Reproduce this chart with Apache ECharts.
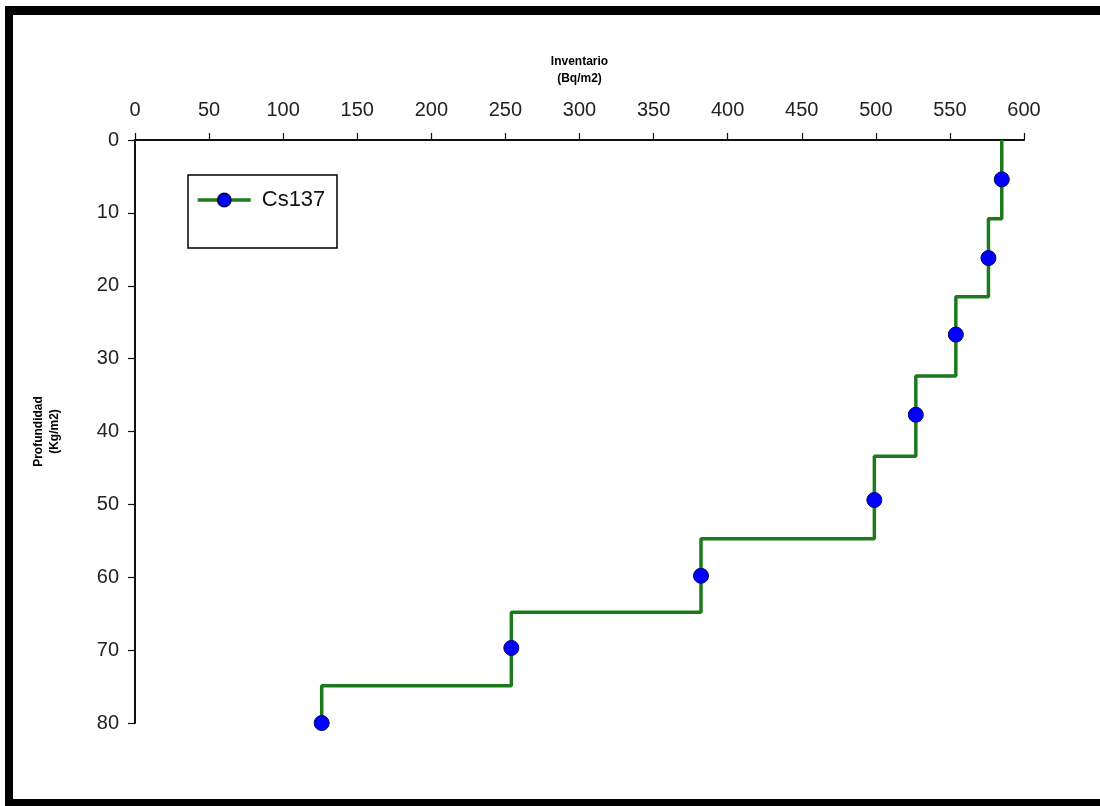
<!DOCTYPE html>
<html>
<head>
<meta charset="utf-8">
<script src="https://cdn.jsdelivr.net/npm/echarts@6/dist/echarts.min.js"></script>
<style>
html,body{margin:0;padding:0;background:#fff;}
#chart{width:1100px;height:806px;}
</style>
</head>
<body>
<div id="chart"></div>
<script>
// Data
var seriesName = 'Cs137';
var inventory = [585, 576, 554, 527, 499, 382, 254, 126];      // Bq/m2, per layer
var pointDepth = [5.4, 16.2, 26.7, 37.7, 49.4, 59.8, 69.7, 80.0]; // Kg/m2, marker depth
var layerTop = [0, 10.8, 21.5, 32.4, 43.4, 54.7, 64.8, 74.9];    // Kg/m2, step boundaries
var xTicks = {min: 0, max: 600, interval: 50};
var yTicks = {min: 0, max: 80, interval: 10};

// Build step line: vertical segment per layer, horizontal at each boundary
var lineData = [];
for (var i = 0; i < inventory.length; i++) {
  lineData.push({value: [inventory[i], layerTop[i]], symbol: 'none'});
  lineData.push({value: [inventory[i], pointDepth[i]]});
  if (i + 1 < inventory.length) {
    lineData.push({value: [inventory[i], layerTop[i + 1]], symbol: 'none'});
  }
}

var FONT = 'Liberation Sans, Arial, sans-serif';
var chart = echarts.init(document.getElementById('chart'));
chart.setOption({
  backgroundColor: '#ffffff',
  animation: false,
  grid: {left: 135, right: 76, top: 140, bottom: 83, containLabel: false},
  legend: {
    left: 196, top: 189,
    itemWidth: 53, itemHeight: 16,
    data: [seriesName],
    lineStyle: {width: 3.5},
    textStyle: {fontFamily: FONT, fontSize: 22, color: '#111', padding: [0, 0, 0, 6]},
    padding: 0
  },
  xAxis: {
    type: 'value', position: 'top',
    min: xTicks.min, max: xTicks.max, interval: xTicks.interval,
    name: 'Inventario\n(Bq/m2)', nameLocation: 'middle', nameGap: 53,
    nameTextStyle: {fontFamily: FONT, fontSize: 12, fontWeight: 'bold', color: '#000', lineHeight: 17},
    axisLine: {lineStyle: {color: '#111', width: 2}},
    axisTick: {inside: false, length: 7, lineStyle: {color: '#111', width: 1.2}},
    axisLabel: {fontFamily: FONT, fontSize: 20, color: '#222', margin: 20},
    splitLine: {show: false}
  },
  yAxis: {
    type: 'value', inverse: true,
    min: yTicks.min, max: yTicks.max, interval: yTicks.interval,
    name: 'Profundidad\n(Kg/m2)', nameLocation: 'middle', nameGap: 72,
    nameTextStyle: {fontFamily: FONT, fontSize: 12, fontWeight: 'bold', color: '#000', lineHeight: 16},
    axisLine: {lineStyle: {color: '#111', width: 2}},
    axisTick: {inside: false, length: 7, lineStyle: {color: '#111', width: 1.2}},
    axisLabel: {fontFamily: FONT, fontSize: 20, color: '#222', margin: 16},
    splitLine: {show: false}
  },
  series: [{
    name: seriesName,
    type: 'line',
    data: lineData,
    symbol: 'circle',
    symbolSize: 15,
    showAllSymbol: true,
    lineStyle: {color: '#1c7a1c', width: 3.5},
    itemStyle: {color: '#0000ff', borderColor: '#00006a', borderWidth: 1},
    z: 3
  }],
  graphic: [
    {type: 'rect', shape: {x: 188, y: 175, width: 149, height: 73}, style: {fill: 'none', stroke: '#000', lineWidth: 1.5}, z: 1},
    {type: 'rect', shape: {x: 5, y: 6, width: 1095, height: 9}, style: {fill: '#000'}},
    {type: 'rect', shape: {x: 5, y: 6, width: 8, height: 800}, style: {fill: '#000'}},
    {type: 'rect', shape: {x: 5, y: 799, width: 1095, height: 7}, style: {fill: '#000'}}
  ]
});
</script>
</body>
</html>
